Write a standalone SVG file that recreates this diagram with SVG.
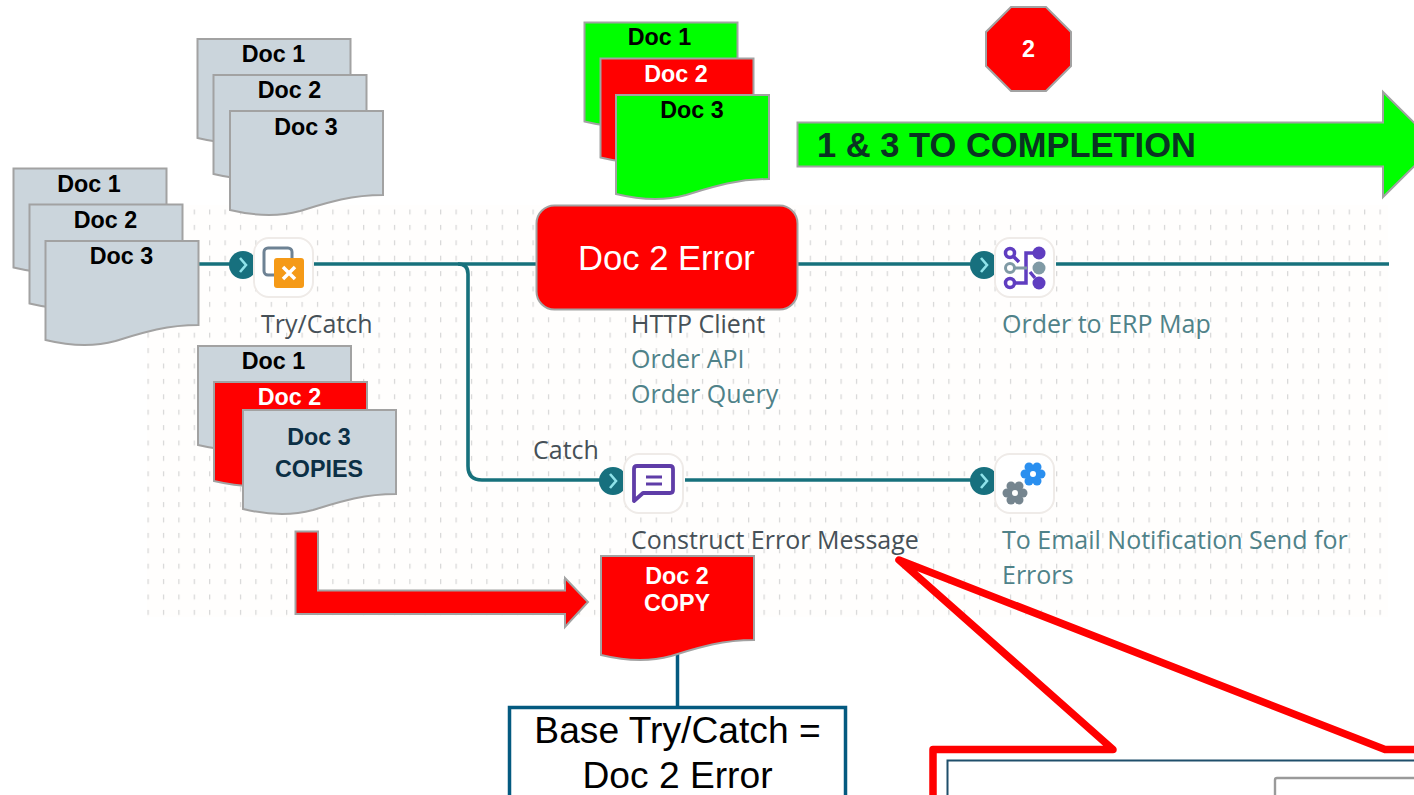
<svg xmlns="http://www.w3.org/2000/svg" xmlns:xlink="http://www.w3.org/1999/xlink" width="1414" height="795" viewBox="0 0 1414 795">
<style>
.bg{fill:#fff}
.doc{stroke:#a2a2a2;stroke-width:2}
.gray{fill:#cbd5dc}.red{fill:#f00}.green{fill:#0f0}
.dt{font-family:"Liberation Sans",Arial,sans-serif;font-weight:bold;font-size:23.3px;text-anchor:middle;fill:#000}
.wt{fill:#fff}.nv{fill:#0b2f45}
.lb{font-family:"Open Sans",sans-serif;font-size:25px}
.dk{fill:#465057}.tl{fill:#4f8289}
.wire{fill:none;stroke:#17717c;stroke-width:3.6}
.ic{fill:#fff;stroke:#efebe8;stroke-width:2}
.port{fill:#17707e}
.chev{fill:none;stroke:#8fe3ea;stroke-width:2.6}
.pl{fill:none;stroke:#5f3dc0;stroke-width:3.5}
.sh{stroke:#a2a2a2;stroke-width:2}
</style>
<defs>
<pattern id="dots" width="15.4" height="15.4" patternUnits="userSpaceOnUse" x="147.5" y="209.5">
<rect x="0" y="0" width="1.2" height="5" fill="#d6d6d6"/>
</pattern>
<path id="docshape" d="M0 0H153V84C120 84 96 92 70 100C48 106 25 105 0 99Z"/>
<g id="gear">
<circle r="8"/><circle cx="8" r="4.500"/><circle cx="-8" r="4.500"/><circle cx="4" cy="7" r="4.500"/><circle cx="-4" cy="7" r="4.500"/><circle cx="4" cy="-7" r="4.500"/><circle cx="-4" cy="-7" r="4.500"/>
<circle r="3" fill="#fff"/>
</g>
</defs>
<rect class="bg" width="1414" height="795"/>
<rect x="147" y="205" width="1241" height="412" fill="#fffefd"/>
<rect x="147" y="205" width="1241" height="412" fill="url(#dots)"/>

<g id="connectors">
<path class="wire" d="M198 264H230M314 264H536M798 264H972M1056 264H1389"/>
<path class="wire" d="M458 264Q468 264 468 274V466Q468 480 482 480H600"/>
<path class="wire" d="M685 480H972"/>
<path d="M677.500 653V707" fill="none" stroke="#045a80" stroke-width="3.500"/>
</g>

<g id="port1"><circle class="port" cx="243" cy="265" r="14"/><path class="chev" d="M240 258L246 265L240 272"/></g>
<g id="port2"><circle class="port" cx="984" cy="265" r="14"/><path class="chev" d="M981 258L987 265L981 272"/></g>
<g id="port3"><circle class="port" cx="613" cy="481" r="14"/><path class="chev" d="M610 474L616 481L610 488"/></g>
<g id="port4"><circle class="port" cx="984" cy="481" r="14"/><path class="chev" d="M981 474L987 481L981 488"/></g>

<g id="try-catch">
<rect class="ic" x="254" y="238" width="59" height="59" rx="15"/>
<rect x="264" y="248" width="28" height="27" rx="4" fill="none" stroke="#6d8294" stroke-width="3"/>
<rect x="274" y="258" width="30" height="30" rx="3" fill="#f59a17"/>
<path d="M283 267L295 279M295 267L283 279" stroke="#fff" stroke-width="3.500" fill="none"/>
<text class="lb dk" x="261" y="333">Try/Catch</text>
</g>

<g id="http-client">
<text class="lb dk" x="631" y="333">HTTP Client</text>
<text class="lb tl" x="631" y="368">Order API</text>
<text class="lb tl" x="631" y="403">Order Query</text>
</g>

<g id="order-map">
<rect class="ic" x="995" y="238" width="59" height="59" rx="15"/>
<circle class="pl" cx="1010" cy="253" r="4.500"/>
<circle cx="1010" cy="268" r="4.500" fill="none" stroke="#7f9aa5" stroke-width="3"/>
<circle class="pl" cx="1010" cy="283" r="4.500"/>
<path class="pl" d="M1014 257L1019 262M1015 283H1026V253H1034M1030 272L1035 278"/>
<path d="M1015 268H1027" fill="none" stroke="#7f9aa5" stroke-width="3"/>
<circle cx="1039" cy="253" r="6.500" fill="#5f3dc0"/>
<circle cx="1039" cy="268" r="6.500" fill="#7f9aa5"/>
<circle cx="1039" cy="283" r="6.500" fill="#5f3dc0"/>
<text class="lb tl" x="1002" y="333">Order to ERP Map</text>
</g>

<g id="construct-error">
<rect class="ic" x="624" y="454" width="59" height="59" rx="15"/>
<path d="M637 466H670Q673 466 673 469V490Q673 493 670 493H643L634 501V469Q634 466 637 466Z" fill="none" stroke="#5f3da8" stroke-width="3.800" stroke-linejoin="round"/>
<path d="M646 477H662M646 484H662" fill="none" stroke="#5f3da8" stroke-width="3"/>
<text class="lb dk" x="631" y="549">Construct Error Message</text>
<text class="lb dk" x="533" y="459">Catch</text>
</g>

<g id="email-send">
<rect class="ic" x="995" y="454" width="59" height="59" rx="15"/>
<use href="#gear" x="1033" y="474" fill="#2a8fef"/>
<use href="#gear" x="1015" y="493" fill="#75858f"/>
<text class="lb tl" x="1002" y="549">To Email Notification Send for</text>
<text class="lb tl" x="1002" y="584">Errors</text>
</g>

<g id="docs-a">
<use href="#docshape" x="197.500" y="39" class="doc gray"/><text class="dt" x="273.500" y="62">Doc 1</text>
<use href="#docshape" x="213.500" y="75" class="doc gray"/><text class="dt" x="289.500" y="98">Doc 2</text>
<use href="#docshape" x="230" y="111" class="doc gray"/><text class="dt" x="306" y="135">Doc 3</text>
</g>
<g id="docs-b">
<use href="#docshape" x="13.500" y="168.500" class="doc gray"/><text class="dt" x="89" y="192">Doc 1</text>
<use href="#docshape" x="29.500" y="204.500" class="doc gray"/><text class="dt" x="105.500" y="228">Doc 2</text>
<use href="#docshape" x="45.500" y="241" class="doc gray"/><text class="dt" x="121.500" y="264">Doc 3</text>
</g>
<g id="docs-c">
<use href="#docshape" x="198" y="346" class="doc gray"/><text class="dt" x="273.500" y="369">Doc 1</text>
<use href="#docshape" x="214" y="382" class="doc red"/><text class="dt wt" x="289.500" y="405">Doc 2</text>
<use href="#docshape" x="243" y="410" class="doc gray"/><text class="dt nv" x="319" y="445">Doc 3</text><text class="dt nv" x="319" y="477">COPIES</text>
</g>
<g id="docs-d">
<use href="#docshape" x="584.500" y="22.500" class="doc green"/><text class="dt" x="659.500" y="45">Doc 1</text>
<use href="#docshape" x="600.500" y="58.500" class="doc red"/><text class="dt wt" x="676" y="82">Doc 2</text>
<use href="#docshape" x="616" y="95" class="doc green"/><text class="dt" x="692" y="118">Doc 3</text>
</g>

<g id="stop-2">
<polygon class="sh red" points="1011,7 1046,7 1071,32 1071,66 1046,91 1011,91 986,66 986,32"/>
<text class="dt wt" x="1028.500" y="57">2</text>
</g>

<g id="arrow-complete">
<polygon class="sh green" points="797.500,122.500 1383,122.500 1383,92 1436,144.500 1383,197 1383,166.500 797.500,166.500"/>
<text x="817" y="157" font-family="Liberation Sans, Arial, sans-serif" font-weight="bold" font-size="34.500" fill="#0a3322">1 &amp; 3 TO COMPLETION</text>
</g>

<g id="doc2-error">
<rect class="sh red" x="536.500" y="205.500" width="261" height="104" rx="18"/>
<text x="666.500" y="270" font-family="Liberation Sans, Arial, sans-serif" font-size="34.600" text-anchor="middle" fill="#fff">Doc 2 Error</text>
</g>

<g id="arrow-copy">
<polygon class="sh red" points="295.500,531.500 318,531.500 318,590.500 565,590.500 565,578 588,602 565,627 565,614 295.500,614"/>
</g>

<g id="doc2-copy">
<use href="#docshape" x="601" y="556" class="doc red"/>
<text class="dt wt" x="677" y="584">Doc 2</text>
<text class="dt wt" x="677" y="611">COPY</text>
</g>

<g id="base-note">
<rect x="509.500" y="707.500" width="336" height="110" fill="#fff" stroke="#045a80" stroke-width="3.500"/>
<text x="677.500" y="743" font-family="Liberation Sans, Arial, sans-serif" font-size="37.200" text-anchor="middle" fill="#000">Base Try/Catch =</text>
<text x="677.500" y="788" font-family="Liberation Sans, Arial, sans-serif" font-size="37.200" text-anchor="middle" fill="#000">Doc 2 Error</text>
</g>

<g id="callout">
<path d="M933 800V749.500H1113L899 560L1385 749.500H1420" fill="none" stroke="#f00" stroke-width="7.500" stroke-linejoin="round" stroke-linecap="round"/>
<rect x="947.500" y="760.500" width="480" height="50" fill="#fff" stroke="#1f4f6b" stroke-width="2"/>
<rect x="1275" y="778" width="160" height="40" rx="2" fill="#fff" stroke="#9a9a9a" stroke-width="2.400"/>
</g>
</svg>
